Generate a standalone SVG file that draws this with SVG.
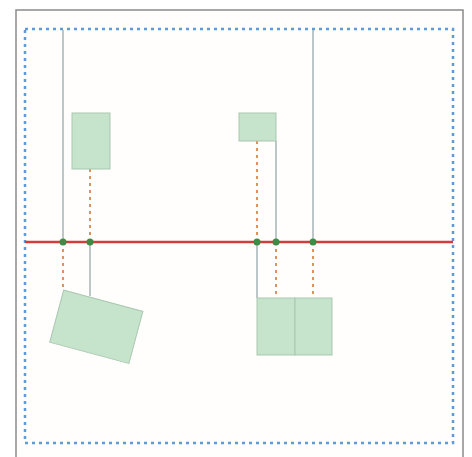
<svg xmlns="http://www.w3.org/2000/svg" width="472" height="457" viewBox="0 0 472 457">
<style>
.box{fill:#c6e3cc;stroke:#a9c7b0;stroke-width:1}
.guide{stroke:#a8b4b4;stroke-width:1.5;fill:none}
.proj{stroke:#e0905a;stroke-width:2;stroke-dasharray:3 4;fill:none}
.dot{fill:#3f8a45}
</style>
<rect x="0" y="0" width="472" height="457" fill="#ffffff"/>
<rect x="16" y="10" width="447" height="460" fill="#fffefd" stroke="#8a8a8a" stroke-width="1.5"/>
<rect x="25" y="29" width="428" height="414" fill="none" stroke="#5d9ad6" stroke-width="2.5" stroke-dasharray="3 4"/>
<g id="connectors">
<line class="guide" x1="63" y1="30" x2="63" y2="242"/>
<line class="guide" x1="313" y1="30" x2="313" y2="242"/>
<line class="guide" x1="276" y1="141" x2="276" y2="242"/>
<line class="guide" x1="90" y1="242" x2="90" y2="296"/>
<line class="guide" x1="257" y1="242" x2="257" y2="298"/>
<line class="proj" x1="90" y1="169" x2="90" y2="242"/>
<line class="proj" x1="257" y1="141" x2="257" y2="242"/>
<line class="proj" x1="63" y1="242" x2="63" y2="290"/>
<line class="proj" x1="276" y1="242" x2="276" y2="298"/>
<line class="proj" x1="313" y1="242" x2="313" y2="298"/>
<line x1="25" y1="242" x2="453" y2="242" stroke="#d43c3c" stroke-width="2.5"/>
</g>
<g id="node-top-left"><rect class="box" x="72" y="113" width="38" height="56"/></g>
<g id="node-top-right"><rect class="box" x="239" y="113" width="37" height="28"/></g>
<g id="node-rotated"><rect class="box" x="-41" y="-27" width="82" height="54" transform="translate(96.3 326.8) rotate(15)"/></g>
<g id="node-bottom-left"><rect class="box" x="257" y="298" width="38" height="57"/></g>
<g id="node-bottom-right"><rect class="box" x="295" y="298" width="37" height="57"/></g>
<g id="dots">
<circle class="dot" cx="63" cy="242" r="3.5"/>
<circle class="dot" cx="90" cy="242" r="3.5"/>
<circle class="dot" cx="257" cy="242" r="3.5"/>
<circle class="dot" cx="276" cy="242" r="3.5"/>
<circle class="dot" cx="313" cy="242" r="3.5"/>
</g>
</svg>
